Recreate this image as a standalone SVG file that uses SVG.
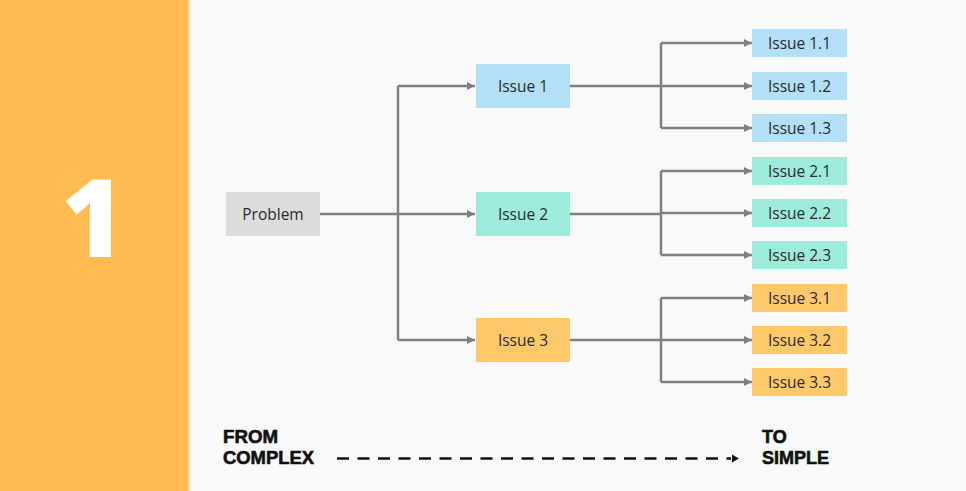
<svg xmlns="http://www.w3.org/2000/svg" width="966" height="491" viewBox="0 0 966 491">
<defs>
<style>
.lbl{font-family:"Open Sans","Noto Sans","Liberation Sans",sans-serif;font-size:15.5px;fill:#2B2B2B;text-anchor:middle;dominant-baseline:central}
.con{fill:none;stroke:#808080;stroke-width:2.5}
.blue{fill:#B3E0F7}
.teal{fill:#9DEBDA}
.orng{fill:#FFC96B}
.cap{font-family:"Liberation Sans",Arial,sans-serif;font-size:18px;font-weight:bold;fill:#111111;stroke:#111111;stroke-width:0.6}
</style>
<marker id="ah" viewBox="0 0 10 10" refX="10" refY="5" markerWidth="8" markerHeight="8" markerUnits="userSpaceOnUse" orient="auto">
<path d="M0,0 L10,5 L0,10 Z" fill="#808080"/>
</marker>
</defs>
<rect x="0" y="0" width="966" height="491" fill="#F9F9F9"/>
<g id="panel">
<rect x="0" y="0" width="189" height="491" fill="#FFBC52"/>
<rect x="188.5" y="0" width="2" height="491" fill="#E9E1D3"/>
<text x="93" y="257" font-family="'Open Sans','Noto Sans','Liberation Sans',sans-serif" font-size="108" font-weight="800" fill="#FFFFFF" text-anchor="middle">1</text>
</g>
<g id="connectors">
<path class="con" d="M320,214 H398"/>
<path class="con" d="M398,86 V340"/>
<path class="con" d="M398,86 H475" marker-end="url(#ah)"/>
<path class="con" d="M398,214 H475" marker-end="url(#ah)"/>
<path class="con" d="M398,340 H475" marker-end="url(#ah)"/>
<path class="con" d="M570,86 H661"/>
<path class="con" d="M661,43 V128"/>
<path class="con" d="M661,43 H752" marker-end="url(#ah)"/>
<path class="con" d="M661,86 H752" marker-end="url(#ah)"/>
<path class="con" d="M661,128 H752" marker-end="url(#ah)"/>
<path class="con" d="M570,214 H661"/>
<path class="con" d="M661,171 V255"/>
<path class="con" d="M661,171 H752" marker-end="url(#ah)"/>
<path class="con" d="M661,213 H752" marker-end="url(#ah)"/>
<path class="con" d="M661,255 H752" marker-end="url(#ah)"/>
<path class="con" d="M570,340 H661"/>
<path class="con" d="M661,298 V382"/>
<path class="con" d="M661,298 H752" marker-end="url(#ah)"/>
<path class="con" d="M661,340 H752" marker-end="url(#ah)"/>
<path class="con" d="M661,382 H752" marker-end="url(#ah)"/>
</g>
<g id="problem"><rect x="226" y="192" width="94" height="44" fill="#DDDDDD"/><text class="lbl" x="273" y="214">Problem</text></g>
<g id="issue1"><rect class="blue" x="476" y="64" width="94" height="44"/><text class="lbl" x="523" y="86">Issue 1</text></g>
<g id="issue2"><rect class="teal" x="476" y="192" width="94" height="44"/><text class="lbl" x="523" y="214">Issue 2</text></g>
<g id="issue3"><rect class="orng" x="476" y="318" width="94" height="44"/><text class="lbl" x="523" y="340">Issue 3</text></g>
<g id="issue1_1"><rect class="blue" x="752" y="29" width="95" height="28"/><text class="lbl" x="799.5" y="43">Issue 1.1</text></g>
<g id="issue1_2"><rect class="blue" x="752" y="72" width="95" height="28"/><text class="lbl" x="799.5" y="86">Issue 1.2</text></g>
<g id="issue1_3"><rect class="blue" x="752" y="114" width="95" height="28"/><text class="lbl" x="799.5" y="128">Issue 1.3</text></g>
<g id="issue2_1"><rect class="teal" x="752" y="157" width="95" height="28"/><text class="lbl" x="799.5" y="171">Issue 2.1</text></g>
<g id="issue2_2"><rect class="teal" x="752" y="199" width="95" height="28"/><text class="lbl" x="799.5" y="213">Issue 2.2</text></g>
<g id="issue2_3"><rect class="teal" x="752" y="241" width="95" height="28"/><text class="lbl" x="799.5" y="255">Issue 2.3</text></g>
<g id="issue3_1"><rect class="orng" x="752" y="284" width="95" height="28"/><text class="lbl" x="799.5" y="298">Issue 3.1</text></g>
<g id="issue3_2"><rect class="orng" x="752" y="326" width="95" height="28"/><text class="lbl" x="799.5" y="340">Issue 3.2</text></g>
<g id="issue3_3"><rect class="orng" x="752" y="368" width="95" height="28"/><text class="lbl" x="799.5" y="382">Issue 3.3</text></g>
<g id="scale">
<text class="cap" x="223" y="442.5" textLength="55" lengthAdjust="spacingAndGlyphs">FROM</text>
<text class="cap" x="223" y="463.5" textLength="91" lengthAdjust="spacingAndGlyphs">COMPLEX</text>
<text class="cap" x="762" y="442.5">TO</text>
<text class="cap" x="762" y="463.5" textLength="67" lengthAdjust="spacingAndGlyphs">SIMPLE</text>
<path d="M337,458.5 H731" fill="none" stroke="#111111" stroke-width="2.5" stroke-dasharray="12,8.5"/>
<path d="M732,454.5 L739,458.5 L732,462.5 Z" fill="#111111"/>
</g>
</svg>
